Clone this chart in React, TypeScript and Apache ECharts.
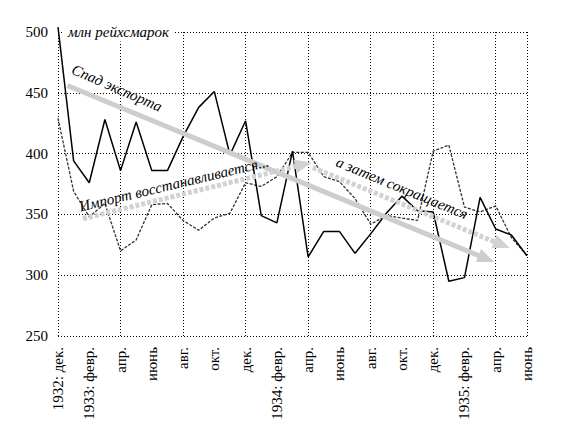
import React, { useEffect, useRef } from 'react'
import * as echarts from 'echarts'

// месяцы с дек. 1932 по июнь 1935, подписи только на чётных
const MONTHS = [
  '1932: дек.', 'янв.', '1933: февр.', 'март', 'апр.', 'май', 'июнь', 'июль', 'авг.', 'сент.', 'окт.', 'нояб.',
  'дек.', 'янв.', '1934: февр.', 'март', 'апр.', 'май', 'июнь', 'июль', 'авг.', 'сент.', 'окт.', 'нояб.',
  'дек.', 'янв.', '1935: февр.', 'март', 'апр.', 'май', 'июнь'
]

const EXPORTS = [
  504, 394, 376, 428, 386, 426, 386, 386, 414, 438, 451, 399,
  427, 349, 343, 402, 315, 336, 336, 318, 334, 351, 365, 353,
  352, 295, 298, 364, 338, 333, 316
]

const IMPORTS = [
  429, 369, 348, 359, 320, 329, 358, 359, 345, 337, 347, 351,
  376, 373, 381, 401, 401, 381, 377, 363, 342, 349, 347, 345,
  402, 407, 356, 352, 357, 331, 316
]

const Y_TICKS = { min: 250, max: 500, step: 50 }

const SERIF = 'Liberation Serif, serif'

function toPairs(values: number[]) {
  return values.map((v, i) => [i, v])
}

function note(text: string, x: number, y: number, rotation: number) {
  return {
    type: 'text' as const,
    x,
    y,
    rotation,
    z: 10,
    style: {
      text,
      fontFamily: SERIF,
      fontStyle: 'italic' as const,
      fontSize: 15,
      fill: '#000',
      align: 'center' as const,
      verticalAlign: 'middle' as const
    }
  }
}

export default function App() {
  const chartRef = useRef<HTMLDivElement>(null)

  useEffect(() => {
    if (!chartRef.current) return
    const chart = echarts.init(chartRef.current, null, { renderer: 'svg' })

    const dotted = { color: '#000', width: 1, type: [1, 2] as number[] }
    const arrowSolid = { color: '#cdcdcd', width: 5, type: 'solid' as const }
    const arrowDashed = { color: '#d2d2d2', width: 5, type: [4, 2] as number[] }

    const option: echarts.EChartsOption = {
      animation: false,
      textStyle: { fontFamily: SERIF },
      grid: { left: 58, right: 43, top: 32, bottom: 106 },
      xAxis: [
        {
          type: 'value',
          min: 0,
          max: MONTHS.length - 1,
          interval: 2,
          axisLine: { show: false },
          axisTick: { show: false },
          splitLine: { show: false },
          axisLabel: {
            rotate: 90,
            margin: 11,
            color: '#000',
            fontFamily: SERIF,
            fontSize: 15,
            formatter: (v: number) => MONTHS[v] ?? ''
          }
        },
        {
          type: 'value',
          min: 0,
          max: MONTHS.length - 1,
          interval: 4,
          position: 'bottom',
          axisLine: { show: false },
          axisTick: { show: false },
          axisLabel: { show: false },
          splitLine: { show: true, lineStyle: dotted }
        }
      ],
      yAxis: {
        type: 'value',
        min: Y_TICKS.min,
        max: Y_TICKS.max,
        interval: Y_TICKS.step,
        axisLine: { show: false },
        axisTick: { show: false },
        axisLabel: { color: '#000', fontFamily: SERIF, fontSize: 15, margin: 10 },
        splitLine: { show: true, lineStyle: dotted }
      },
      series: [
        {
          name: 'Импорт',
          type: 'line',
          data: toPairs(IMPORTS),
          showSymbol: false,
          clip: false,
          lineStyle: { color: '#333', width: 1.3, type: [3, 1.5] },
          z: 3,
          markLine: {
            silent: true,
            animation: false,
            label: { show: false },
            symbol: ['none', 'triangle'],
            symbolSize: [14, 17],
            data: [
              [{ coord: [0.6, 456], lineStyle: arrowSolid }, { coord: [27.4, 313.5] }],
              [{ coord: [1.6, 346.5], lineStyle: arrowDashed }, { coord: [15.7, 391] }],
              [{ coord: [16.3, 388.5], lineStyle: arrowDashed }, { coord: [28.4, 325] }]
            ] as any
          }
        },
        {
          name: 'Экспорт',
          type: 'line',
          data: toPairs(EXPORTS),
          showSymbol: false,
          clip: false,
          lineStyle: { color: '#000', width: 1.5 },
          z: 4
        }
      ],
      graphic: [
        {
          type: 'text',
          x: 64,
          y: 32,
          z: 10,
          style: {
            text: 'млн рейхсмарок',
            fontFamily: SERIF,
            fontStyle: 'italic',
            fontSize: 15,
            fill: '#000',
            verticalAlign: 'middle',
            backgroundColor: '#fff',
            padding: [2, 4]
          }
        },
        note('Спад экспорта', 117, 88, -0.41),
        note('Импорт восстанавливается...', 174, 184, 0.235),
        note('а затем сокращается', 402, 188, -0.39)
      ]
    }

    chart.setOption(option)
    return () => chart.dispose()
  }, [])

  return (
    <div
      ref={chartRef}
      style={{ position: 'absolute', left: 0, top: 0, width: 570, height: 442, background: '#fff' }}
    />
  )
}
